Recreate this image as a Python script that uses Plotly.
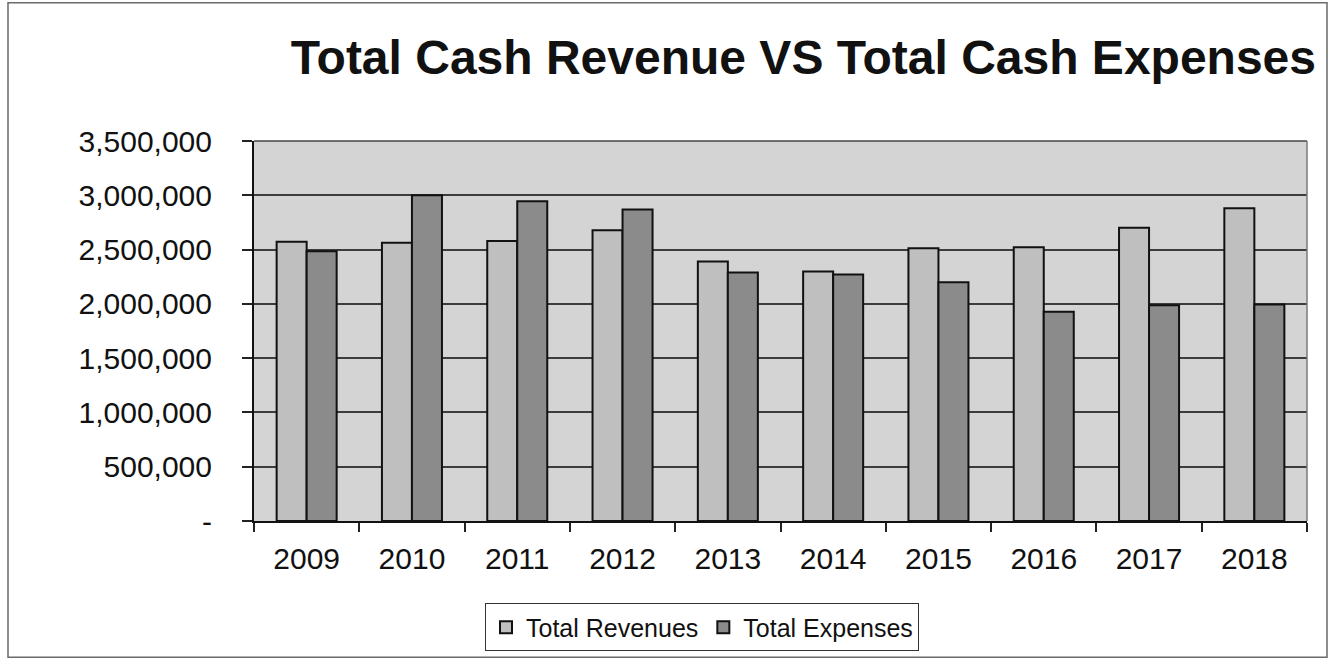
import plotly.graph_objects as go

# Fiscal years and cash totals
years = ["2009", "2010", "2011", "2012", "2013", "2014", "2015", "2016", "2017", "2018"]
total_revenues = [2571000, 2562000, 2580000, 2678000, 2390000, 2298000, 2512000, 2522000, 2702000, 2880000]
total_expenses = [2484000, 3000000, 2945000, 2868000, 2288000, 2270000, 2200000, 1928000, 1988000, 1994000]

# Value-axis ticks
y_tick_values = [0, 500000, 1000000, 1500000, 2000000, 2500000, 3000000, 3500000]
y_tick_labels = ["-", "500,000", "1,000,000", "1,500,000", "2,000,000", "2,500,000", "3,000,000", "3,500,000"]

W, H = 1330, 664
L, R, T, B = 254, 23, 141, 141
PW, PH = W - L - R, H - T - B

FONT = "Liberation Sans, Arial, Helvetica, sans-serif"


def px_to_paper_x(px):
    return (px - L) / PW


def px_to_paper_y(py):
    return (H - B - py) / PH


fig = go.Figure()
fig.add_trace(go.Bar(
    name="Total Revenues", x=years, y=total_revenues,
    marker=dict(color="#bfbfbf", line=dict(color="#111111", width=2)),
))
fig.add_trace(go.Bar(
    name="Total Expenses", x=years, y=total_expenses,
    marker=dict(color="#8b8b8b", line=dict(color="#111111", width=2)),
))

fig.update_layout(
    width=W, height=H,
    margin=dict(l=L, r=R, t=T, b=B, pad=0),
    paper_bgcolor="white",
    plot_bgcolor="#d4d4d4",
    barmode="group",
    bargap=0.43,
    bargroupgap=0,
    font=dict(family=FONT, color="#111111"),
    title=dict(
        text="<b>Total Cash Revenue VS Total Cash Expenses</b>",
        font=dict(family=FONT, size=48, color="#111111"),
        xref="container", yref="container",
        x=1316 / W, xanchor="right",
        y=1 - 57 / H, yanchor="middle",
    ),
    legend=dict(
        orientation="h",
        x=px_to_paper_x(702), xanchor="center",
        y=px_to_paper_y(630), yanchor="middle",
        bgcolor="white",
        bordercolor="#333333", borderwidth=1,
        font=dict(family=FONT, size=25, color="#111111"),
        itemwidth=30,
        traceorder="normal",
    ),
    showlegend=True,
)

fig.update_xaxes(
    type="category",
    tickson="boundaries",
    ticks="outside", ticklen=9, tickwidth=1.5, tickcolor="#222222",
    showline=True, linecolor="#111111", linewidth=2,
    showgrid=False,
    tickfont=dict(family=FONT, size=30, color="#111111"),
    ticklabelstandoff=10,
)

fig.update_yaxes(
    range=[0, 3500000],
    tickmode="array", tickvals=y_tick_values, ticktext=y_tick_labels,
    ticks="outside", ticklen=10, tickwidth=1.5, tickcolor="#222222",
    showline=True, linecolor="#111111", linewidth=2,
    showgrid=True, gridcolor="#3c3c3c", gridwidth=1.5,
    zeroline=False,
    tickfont=dict(family=FONT, size=30, color="#111111"),
    ticklabelstandoff=24,
)

# Plot-area border: dark top edge, lighter right edge
fig.add_shape(type="line", xref="paper", yref="paper",
              x0=0, x1=1, y0=1, y1=1,
              line=dict(color="#444444", width=1.5))
fig.add_shape(type="line", xref="paper", yref="paper",
              x0=1, x1=1, y0=0, y1=1,
              line=dict(color="#7a7a7a", width=1.5))
# Outer chart frame
fig.add_shape(type="rect", xref="paper", yref="paper",
              x0=px_to_paper_x(8), x1=px_to_paper_x(1327),
              y0=px_to_paper_y(660), y1=px_to_paper_y(2),
              line=dict(color="#6a6a6a", width=1.5), fillcolor="rgba(0,0,0,0)",
              layer="below")

fig.write_html("out.html")
